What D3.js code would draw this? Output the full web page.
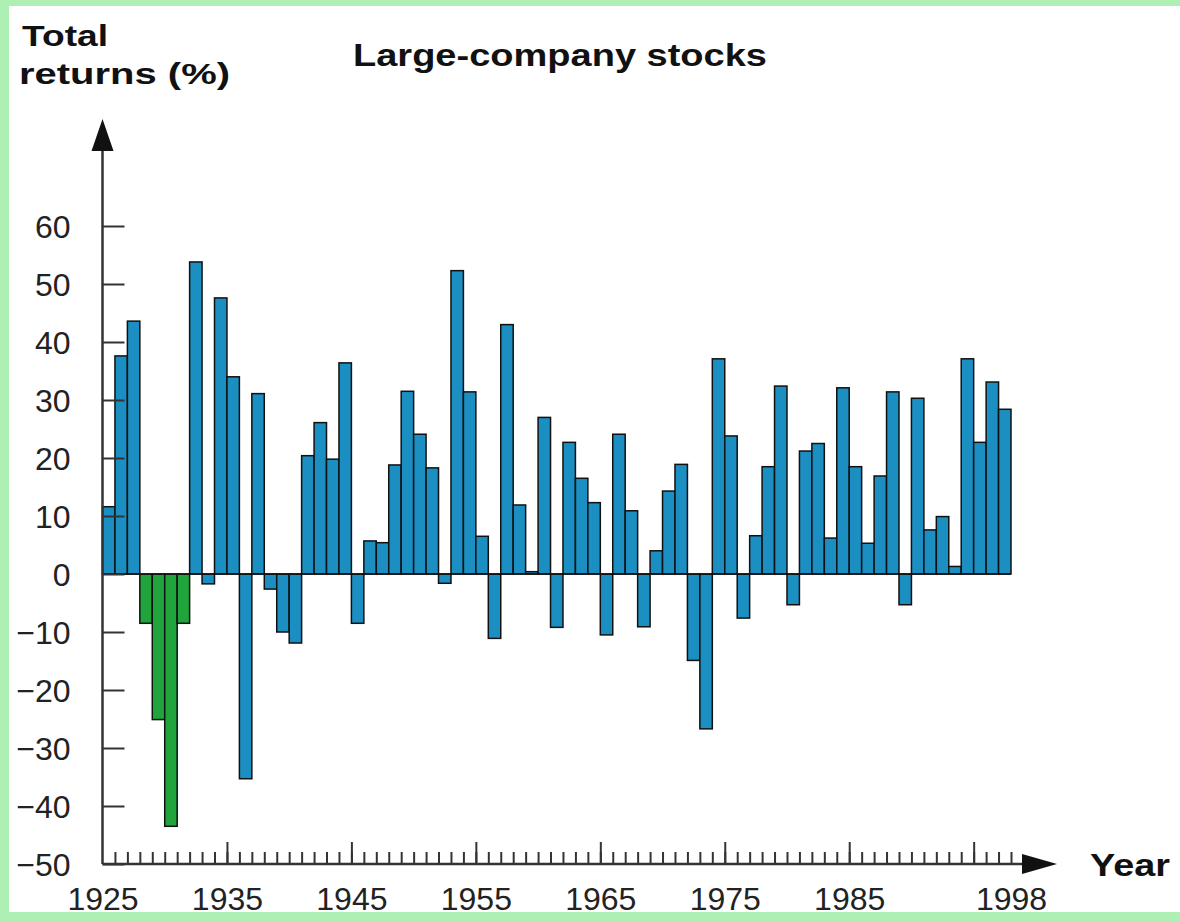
<!DOCTYPE html>
<html>
<head>
<meta charset="utf-8">
<script src="https://cdn.jsdelivr.net/npm/d3@7"></script>
<style>
  html, body { margin: 0; padding: 0; background: #fff; }
  svg { display: block; font-family: "Liberation Sans", Arial, sans-serif; }
  .axis path, .axis line { stroke: #333; stroke-width: 2; }
  .axis text { fill: #222; font-size: 32px; }
</style>
</head>
<body>
<div id="chart"></div>
<script>
// annual total returns (%) of large-company stocks, 1926-1998
const years = d3.range(1926, 1999);
const returns = [
  11.6, 37.6, 43.6, -8.5, -25.1, -43.5, -8.5, 53.8, -1.7, 47.6,
  34.0, -35.3, 31.1, -2.6, -10.0, -11.9, 20.4, 26.1, 19.8, 36.4,
  -8.5, 5.7, 5.4, 18.8, 31.5, 24.1, 18.3, -1.6, 52.3, 31.4,
  6.5, -11.1, 43.0, 11.9, 0.4, 27.0, -9.2, 22.7, 16.5, 12.3,
  -10.5, 24.1, 10.9, -9.1, 4.0, 14.3, 18.9, -14.9, -26.7, 37.1,
  23.8, -7.6, 6.6, 18.5, 32.4, -5.3, 21.2, 22.5, 6.2, 32.1,
  18.5, 5.3, 16.9, 31.4, -5.3, 30.3, 7.6, 9.9, 1.3, 37.1,
  22.7, 33.1, 28.4
];
// the crash years are drawn in green
const crashYears = [1929, 1930, 1931, 1932];
const yTicks = [-50, -40, -30, -20, -10, 0, 10, 20, 30, 40, 50, 60];
const majorYears = [1935, 1945, 1955, 1965, 1975, 1985, 1995];
const labelYears = [1925, 1935, 1945, 1955, 1965, 1975, 1985, 1998];

const width = 1180, height = 922;
const data = years.map((y, i) => ({ year: y, value: returns[i] }));

const svg = d3.select("#chart").append("svg")
  .attr("width", width)
  .attr("height", height);

svg.append("rect").attr("width", width).attr("height", height).attr("fill", "#fff");

const x = d3.scaleLinear().domain([1925, 1998]).range([102.5, 1011]);
const y = d3.scaleLinear().domain([-50, 60]).range([864, 226]);

// bars, each year fills the slot between year-1 and year
svg.append("g")
  .selectAll("rect")
  .data(data).enter()
  .append("rect")
  .attr("x", d => x(d.year - 1))
  .attr("width", d => x(d.year) - x(d.year - 1))
  .attr("y", d => y(Math.max(0, d.value)))
  .attr("height", d => Math.abs(y(d.value) - y(0)))
  .attr("fill", d => crashYears.includes(d.year) ? "#1fa53c" : "#1b8ec2")
  .attr("stroke", "#111")
  .attr("stroke-width", 1.5);

// zero line along the bars
svg.append("line")
  .attr("x1", x(1925)).attr("x2", x(1998))
  .attr("y1", y(0)).attr("y2", y(0))
  .attr("stroke", "#111").attr("stroke-width", 1.5);

// y axis, ticks pointing into the plot
const yAxis = d3.axisLeft(y)
  .tickValues(yTicks)
  .tickSize(-22)
  .tickPadding(32)
  .tickFormat(d3.format("d"));

const gy = svg.append("g")
  .attr("class", "axis")
  .attr("transform", `translate(${x(1925)},0)`)
  .call(yAxis);
gy.select(".domain").remove();
gy.selectAll("text").attr("dy", "0.36em");

svg.append("line")
  .attr("x1", x(1925)).attr("x2", x(1925))
  .attr("y1", 864).attr("y2", 140)
  .attr("stroke", "#333").attr("stroke-width", 2.5);
svg.append("path")
  .attr("d", `M${x(1925)},119 L${x(1925) - 11},151 L${x(1925) + 11},151 Z`)
  .attr("fill", "#111");

// x axis: minor ticks every year, major every decade
const gxMinor = svg.append("g")
  .attr("class", "axis")
  .attr("transform", `translate(0,${y(-50)})`)
  .call(d3.axisBottom(x).tickValues(d3.range(1926, 1999)).tickSize(-12).tickFormat(""));
gxMinor.select(".domain").remove();

const gxMajor = svg.append("g")
  .attr("class", "axis")
  .attr("transform", `translate(0,${y(-50)})`)
  .call(d3.axisBottom(x).tickValues(majorYears).tickSize(-22).tickFormat(""));
gxMajor.select(".domain").remove();

const gxLabels = svg.append("g")
  .attr("class", "axis")
  .attr("transform", `translate(0,${y(-50)})`)
  .call(d3.axisBottom(x).tickValues(labelYears).tickSize(0).tickPadding(23).tickFormat(d3.format("d")));
gxLabels.select(".domain").remove();

svg.append("line")
  .attr("x1", x(1925)).attr("x2", 1030)
  .attr("y1", y(-50)).attr("y2", y(-50))
  .attr("stroke", "#333").attr("stroke-width", 2.5);
svg.append("path")
  .attr("d", `M1057,${y(-50)} L1022,${y(-50) - 10} L1022,${y(-50) + 10} Z`)
  .attr("fill", "#111");

// titles
svg.append("text")
  .attr("x", 353).attr("y", 66)
  .attr("textLength", 414).attr("lengthAdjust", "spacingAndGlyphs")
  .style("font-size", "32px").style("font-weight", "bold").attr("fill", "#111")
  .text("Large-company stocks");

svg.append("text")
  .attr("x", 22).attr("y", 46)
  .attr("textLength", 86).attr("lengthAdjust", "spacingAndGlyphs")
  .style("font-size", "30px").style("font-weight", "bold").attr("fill", "#111")
  .text("Total");
svg.append("text")
  .attr("x", 19).attr("y", 84)
  .attr("textLength", 211).attr("lengthAdjust", "spacingAndGlyphs")
  .style("font-size", "30px").style("font-weight", "bold").attr("fill", "#111")
  .text("returns (%)");

svg.append("text")
  .attr("x", 1090).attr("y", 876)
  .attr("textLength", 80).attr("lengthAdjust", "spacingAndGlyphs")
  .style("font-size", "32px").style("font-weight", "bold").attr("fill", "#111")
  .text("Year");

// light green frame round the picture
const frame = svg.append("g").attr("fill", "#aef0b4");
frame.append("rect").attr("x", 0).attr("y", 0).attr("width", width).attr("height", 6);
frame.append("rect").attr("x", 0).attr("y", 0).attr("width", 9).attr("height", height);
frame.append("rect").attr("x", 0).attr("y", 912).attr("width", width).attr("height", height - 912);
</script>
</body>
</html>
